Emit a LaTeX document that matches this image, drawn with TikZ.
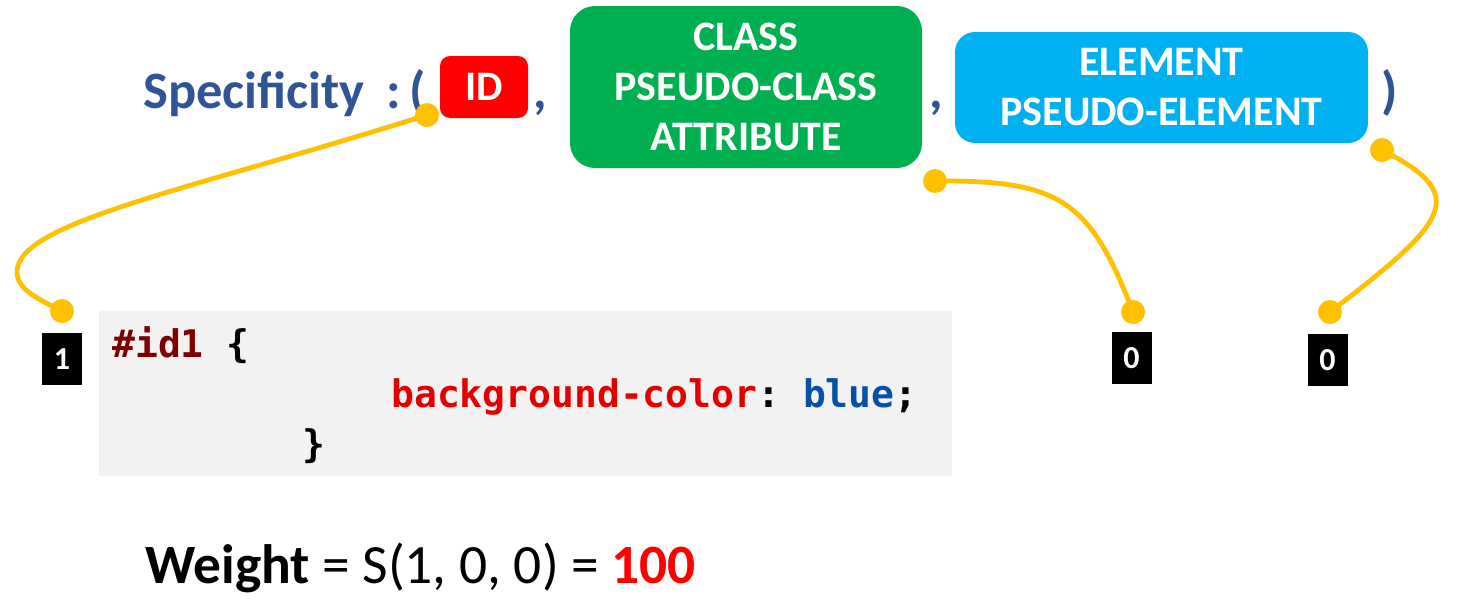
\documentclass[tikz,border=0pt]{standalone}
\usepackage{fontspec}
\setmainfont{Carlito}
\setmonofont{DejaVu Sans Mono}
\definecolor{specblue}{HTML}{2F5597}
\definecolor{idred}{HTML}{FF0000}
\definecolor{clsgreen}{HTML}{00B050}
\definecolor{elcyan}{HTML}{00B0F0}
\definecolor{amber}{HTML}{FFC000}
\definecolor{codegray}{HTML}{F2F2F2}
\definecolor{selmaroon}{HTML}{7F0000}
\definecolor{propred}{HTML}{E50000}
\definecolor{valblue}{HTML}{0451A5}
\newcommand{\bigfont}{\fontsize{39.4}{47}\selectfont\bfseries}
\newcommand{\boxfont}{\fontsize{31.5}{37.5}\selectfont\bfseries}
\newcommand{\codefont}{\fontsize{28.5}{34}\selectfont\ttfamily\bfseries}

\begin{document}
\begin{tikzpicture}[x=0.75pt, y=-0.75pt,
    selbox/.style={rounded corners=#1, text=white, font=\boxfont, align=center, inner sep=0pt},
    dot/.style={circle, fill=amber, minimum size=18pt, inner sep=0pt},
    link/.style={amber, line width=3.6pt},
    countbox/.style={fill=black, text=white, minimum width=30pt, minimum height=39pt, inner sep=0pt, font=\fontsize{24}{28}\selectfont\bfseries},
    code/.style={anchor=base west, inner sep=0pt, font=\codefont}]
        \useasboundingbox (0,0) rectangle (1479,614);
        % Specificity heading
        \node[anchor=base west, inner sep=0pt, text=specblue, font=\bigfont] (spec) at (143,108) {Specificity};
        \node[anchor=base west, inner sep=0pt, text=specblue, font=\bigfont] (open) at (386,108) {:\,(};
        % Selector groups
        \node[selbox=7.5pt, fill=idred, minimum width=66pt, minimum height=46.5pt] (idbox) at (484,87) {ID};
        \node[anchor=base west, inner sep=0pt, text=specblue, font=\bigfont] (comma1) at (533,108) {,};
        \node[selbox=18.75pt, fill=clsgreen, minimum width=264pt, minimum height=121.5pt] (clsbox) at (746,87) {CLASS\\PSEUDO-CLASS\\ATTRIBUTE};
        \node[anchor=base west, inner sep=0pt, text=specblue, font=\bigfont] (comma2) at (929,108) {,};
        \node[selbox=15pt, fill=elcyan, minimum width=309.75pt, minimum height=83.25pt] (elbox) at (1161.5,87.5) {ELEMENT\\PSEUDO-ELEMENT};
        \node[anchor=base west, inner sep=0pt, text=specblue, font=\bigfont] (close) at (1381,108) {)};
        % Code sample
        \fill[codegray] (99,311) rectangle (952,476);
        \node[code] (line1) at (112,357) {\textcolor{selmaroon}{\#id1} \{};
        \node[code] (line2) at (391,407) {\textcolor{propred}{background-color}: \textcolor{valblue}{blue};};
        \node[code] (line3) at (302,457) {\}};
        % Counts
        \node[countbox] (cntid) at (62,359) {1};
        \node[countbox] (cntcls) at (1131.5,358) {0};
        \node[countbox] (cntel) at (1327.5,360) {0};
        % Connectors
        \coordinate (didtop) at (427,115);
        \coordinate (dclstop) at (935,181);
        \coordinate (deltop) at (1382,150);
        \coordinate (didbot) at (62,311);
        \coordinate (dclsbot) at (1133,312);
        \coordinate (delbot) at (1330,312);
        \draw[link] (didtop) .. controls (190,190) and (17,222) .. (17,272) .. controls (17,290) and (40,300) .. (didbot);
        \draw[link] (dclstop) .. controls (1060,180) and (1090,200) .. (dclsbot);
        \draw[link] (deltop) .. controls (1470,195) and (1450,220) .. (delbot);
        \foreach \d in {didtop, dclstop, deltop, didbot, dclsbot, delbot} {
            \node[dot] at (\d) {};
        }
        % Weight
        \node[anchor=base west, inner sep=0pt, font=\fontsize{41.6}{49}\selectfont] (weight) at (145,583) {\textbf{Weight} = S(1, 0, 0) = \textbf{\textcolor{idred}{100}}};
\end{tikzpicture}
\end{document}
